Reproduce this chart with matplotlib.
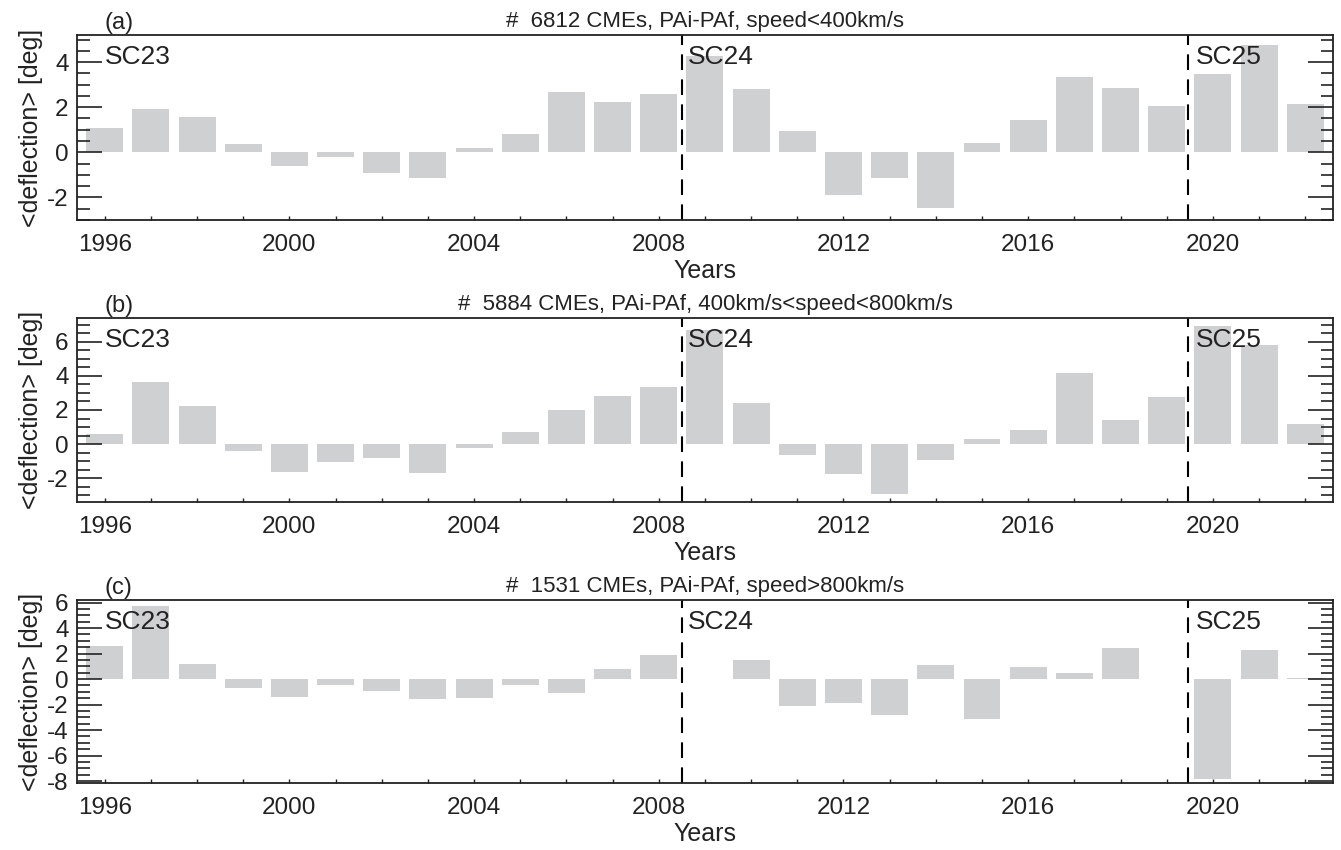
import matplotlib.pyplot as plt
import numpy as np
from matplotlib.ticker import MultipleLocator

plt.rcParams['font.family'] = ['Liberation Sans', 'DejaVu Sans']
plt.rcParams['axes.unicode_minus'] = False

years = np.arange(1996, 2023)

# mean deflection per year [deg]
defl_slow = [1.08, 1.93, 1.57, 0.37, -0.59, -0.19, -0.90, -1.13, 0.19, 0.81, 2.68, 2.24, 2.59,
             4.27, 2.79, 0.96, -1.91, -1.16, -2.49, 0.43, 1.45, 3.32, 2.83, 2.07, 3.45, 4.74, 2.12]
defl_mid = [0.59, 3.63, 2.22, -0.39, -1.62, -1.03, -0.80, -1.68, -0.21, 0.70, 1.99, 2.81, 3.34,
            6.67, 2.44, -0.62, -1.74, -2.91, -0.92, 0.29, 0.82, 4.16, 1.40, 2.75, 6.91, 5.80, 1.17]
defl_fast = [2.62, 5.76, 1.20, -0.68, -1.39, -0.45, -0.92, -1.54, -1.47, -0.45, -1.07, 0.81, 1.91,
             0.04, 1.52, -2.09, -1.91, -2.85, 1.13, -3.12, 0.97, 0.50, 2.46, 0.04, -7.80, 2.30, 0.05]

panel_tags = ['(a)', '(b)', '(c)']
panel_titles = ['#  6812 CMEs, PAi-PAf, speed<400km/s',
                '#  5884 CMEs, PAi-PAf, 400km/s<speed<800km/s',
                '#  1531 CMEs, PAi-PAf, speed>800km/s']
cycle_starts = [2008.5, 2019.47]
cycle_names = ['SC23', 'SC24', 'SC25']
cycle_text_x = [1996.0, 2008.62, 2019.62]
ylims = [(-3.0, 5.2), (-3.4, 7.4), (-8.15, 6.2)]

fig = plt.figure(figsize=(13.41, 8.5), dpi=100)
boxes = [[0.0574, 0.7412, 0.9366, 0.2176],
         [0.0574, 0.4094, 0.9366, 0.2165],
         [0.0574, 0.0788, 0.9366, 0.2153]]
ink = '#222222'

for box, data, tag, title, ylim in zip(boxes, [defl_slow, defl_mid, defl_fast],
                                       panel_tags, panel_titles, ylims):
    ax = fig.add_axes(box)
    ax.bar(years, data, width=0.8, color='#cfd0d2', edgecolor='none', zorder=1)
    for xs in cycle_starts:
        ax.axvline(xs, color='black', lw=1.5, dashes=(7.5, 4.5), zorder=2)
    for xt, name in zip(cycle_text_x, cycle_names):
        ax.text(xt, 0.88, name, transform=ax.get_xaxis_transform(), fontsize=19,
                ha='left', va='center', color=ink, zorder=3)

    ax.set_xlim(1995.4, 2022.6)
    ax.set_ylim(*ylim)
    ax.xaxis.set_major_locator(MultipleLocator(4))
    ax.xaxis.set_minor_locator(MultipleLocator(1))
    ax.yaxis.set_major_locator(MultipleLocator(2))
    ax.yaxis.set_minor_locator(MultipleLocator(0.5))
    ax.tick_params(axis='x', which='both', direction='in', length=3, width=1,
                   top=False, labelsize=17.5, pad=10, colors=ink)
    ax.tick_params(axis='y', which='major', direction='in', length=18, width=1.2,
                   right=True, labelsize=17.5, pad=6, colors=ink)
    ax.tick_params(axis='y', which='minor', direction='in', length=9, width=1.2, right=True,
                   colors=ink)
    for sp in ax.spines.values():
        sp.set_linewidth(1.3)
        sp.set_color(ink)

    ax.set_xlabel('Years', fontsize=18, labelpad=2, color=ink)
    ax.set_ylabel('<deflection> [deg]', fontsize=18, labelpad=3, color=ink)
    ax.set_title(title, fontsize=16, pad=6, color=ink)
    ax.text(1996.0, 1.005, tag, transform=ax.get_xaxis_transform(), fontsize=17,
            ha='left', va='bottom', color=ink)

fig.savefig('out.png', dpi=100)
